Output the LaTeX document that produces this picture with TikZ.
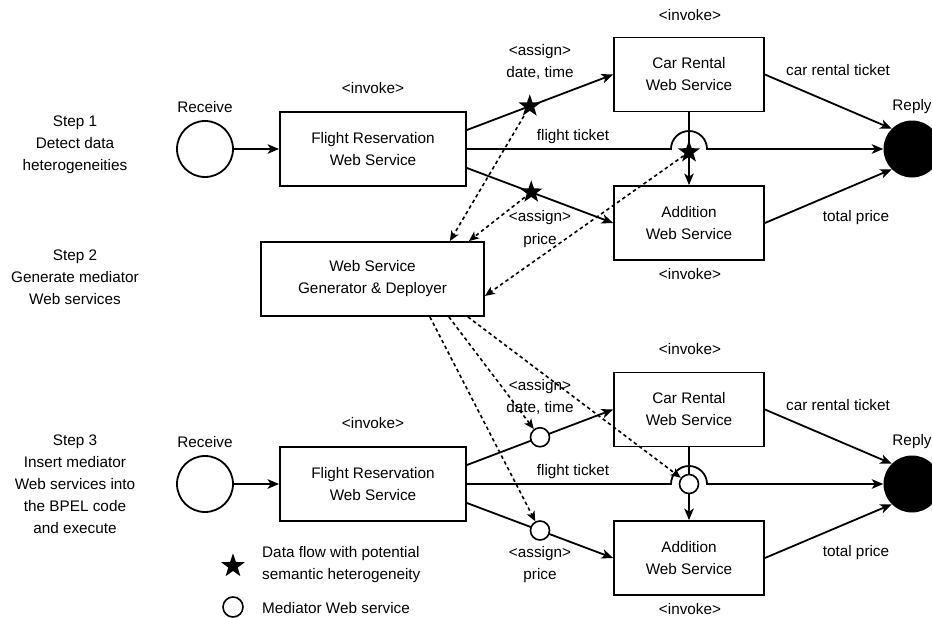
\documentclass[tikz,border=0pt]{standalone}
\usepackage{fontspec}
\setmainfont{Liberation Sans}
\usetikzlibrary{arrows.meta,shapes.geometric,calc}
\begin{document}
\begin{tikzpicture}[x=1pt,y=-1pt,
  every node/.style={font=\fontsize{15.3}{22}\selectfont},
  svc/.style={draw, line width=1.8pt, minimum width=#1, minimum height=74pt,
    align=center, inner sep=0pt},
  startev/.style={circle, draw, line width=1.8pt, minimum size=56pt, inner sep=0pt},
  endev/.style={circle, fill=black, minimum size=57pt, inner sep=0pt},
  hstar/.style={star, star points=5, star point ratio=2.5, fill=black,
    minimum size=23.5pt, inner sep=0pt},
  med/.style={circle, draw, fill=white, line width=1.6pt, minimum size=19pt, inner sep=0pt},
  flow/.style={line width=1.8pt, -{Stealth[length=11.5pt,width=9.5pt,inset=3pt]}},
  dflow/.style={line width=1.6pt, dash pattern=on 3.5pt off 3pt,
    -{Stealth[length=10pt,width=8.5pt,inset=2.5pt]}},
  lbl/.style={inner sep=0pt},
  steptext/.style={align=center, inner sep=0pt}]

\fill[white] (0,0) rectangle (932,618);
\useasboundingbox (0,0) rectangle (932,618);

% ---------- step descriptions ----------
\node[steptext] (st1) at (75,145) {Step 1\\Detect data\\heterogeneities};
\node[steptext] (st2) at (75,277) {Step 2\\Generate mediator\\Web services};
\node[steptext] (st3) at (75,484) {Step 3\\Insert mediator\\Web services into\\the BPEL code\\and execute};

% ---------- upper process ----------
\node[startev] (recv1) at (205,149) {};
\node[lbl] at (205,107) {Receive};
\node[svc=186pt] (flight1) at (373,149) {Flight Reservation\\Web Service};
\node[lbl] at (373,88) {<invoke>};
\node[svc=150pt] (car1) at (689,74.5) {Car Rental\\Web Service};
\node[lbl] at (690,15) {<invoke>};
\node[svc=150pt] (add1) at (689,223) {Addition\\Web Service};
\node[lbl] at (690,274) {<invoke>};
\node[endev] (reply1) at (912,149) {};
\node[lbl] at (912,107) {Reply};

\node[lbl] at (540,52) {<assign>};
\node[lbl] at (540,73) {date, time};
\node[lbl] at (573,137) {flight ticket};
\node[lbl] at (540,218) {<assign>};
\node[lbl] at (540,241) {price};
\node[lbl] at (838,70) {car rental ticket};
\node[lbl] at (856,218) {total price};

\draw[flow] (recv1) -- (flight1);
\draw[flow] ($(flight1.east)+(0,-19)$) -- node[pos=0.43,hstar] (s1) {} (car1.west);
\draw[flow] ($(flight1.east)+(0,19)$) -- node[pos=0.44,hstar] (s2) {} (add1.west);
\coordinate (x1) at (car1.south |- flight1.east);
\draw[flow] (flight1.east) -- ($(x1)+(-18,0)$)
  arc[start angle=180, end angle=0, radius=18pt] -- (reply1.west);
\draw[flow] (car1.south) -- (add1.north);
\node[hstar] (s3) at ($(x1)+(0,3)$) {};
\draw[flow] (car1.east) -- (reply1.135);
\draw[flow] (add1.east) -- (reply1.225);

% ---------- generator ----------
\node[svc=223pt] (gen) at (372.5,279) {Web Service\\Generator \& Deployer};
\draw[dflow] (s1) -- ($(gen.north east)+(-35,0)$);
\draw[dflow] (s2) -- ($(gen.north east)+(-16,0)$);
\draw[dflow] (s3) -- ($(gen.east)+(0,17)$);

% ---------- lower process ----------
\node[startev] (recv2) at (205,484) {};
\node[lbl] at (205,442) {Receive};
\node[svc=186pt] (flight2) at (373,484) {Flight Reservation\\Web Service};
\node[lbl] at (373,423) {<invoke>};
\node[svc=150pt] (car2) at (689,409.5) {Car Rental\\Web Service};
\node[lbl] at (690,349) {<invoke>};
\node[svc=150pt] (add2) at (689,558) {Addition\\Web Service};
\node[lbl] at (690,609) {<invoke>};
\node[endev] (reply2) at (912,484) {};
\node[lbl] at (912,442) {Reply};

\node[lbl] at (540,387) {<assign>};
\node[lbl] at (540,408) {date, time};
\node[lbl] at (573,472) {flight ticket};
\node[lbl] at (540,554) {<assign>};
\node[lbl] at (540,576) {price};
\node[lbl] at (838,405) {car rental ticket};
\node[lbl] at (856,553) {total price};

\draw[flow] (recv2) -- (flight2);
\draw[flow] ($(flight2.east)+(0,-19)$) -- node[pos=0.5,med] (m1) {} (car2.west);
\draw[flow] ($(flight2.east)+(0,19)$) -- node[pos=0.5,med] (m2) {} (add2.west);
\coordinate (x2) at (car2.south |- flight2.east);
\draw[flow] (flight2.east) -- ($(x2)+(-18,0)$)
  arc[start angle=180, end angle=0, radius=18pt] -- (reply2.west);
\draw[flow] (car2.south) -- (add2.north);
\node[med] (m3) at (x2) {};
\draw[flow] (car2.east) -- (reply2.135);
\draw[flow] (add2.east) -- (reply2.225);

\draw[dflow] ($(gen.south east)+(-55,0)$) -- (m2);
\draw[dflow] ($(gen.south east)+(-36,0)$) -- (m1);
\draw[dflow] ($(gen.south east)+(-17,0)$) -- (m3);

% ---------- legend ----------
\node[hstar, minimum size=25pt] (lgstar) at (233,566) {};
\node[lbl, anchor=west, align=left] (lgstartext) at (262,565)
  {Data flow with potential\\semantic heterogeneity};
\node[med, minimum size=20pt] (lgmed) at (233,607) {};
\node[lbl, anchor=west] (lgmedtext) at (262,608) {Mediator Web service};
\end{tikzpicture}
\end{document}
